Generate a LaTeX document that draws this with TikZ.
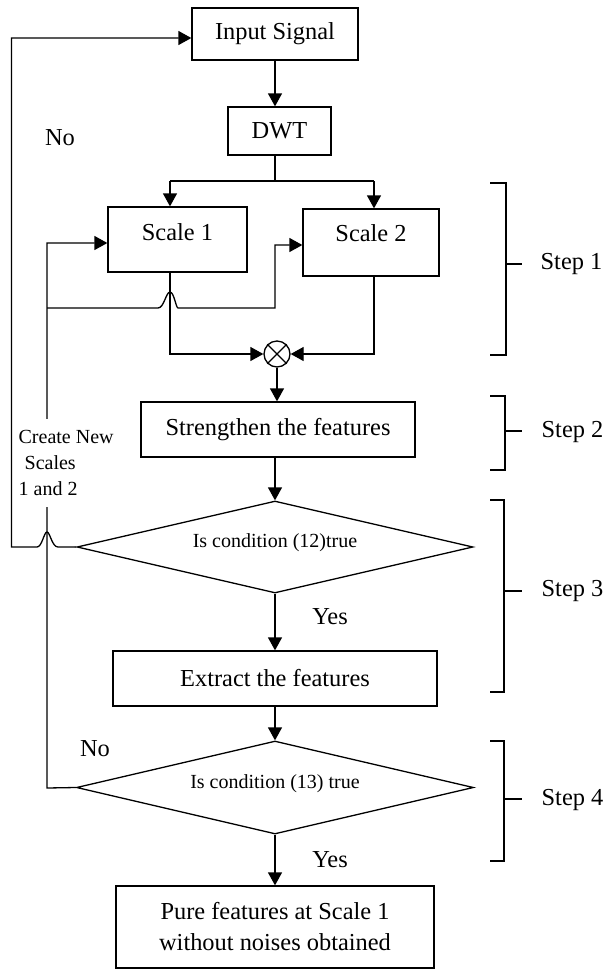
\documentclass[tikz,border=0pt]{standalone}
\usepackage{fontspec}
\setmainfont{Liberation Serif}
\usetikzlibrary{shapes.geometric,arrows.meta,calc}
\begin{document}
\begin{tikzpicture}[x=0.5pt,y=-0.5pt,
  line width=0.65pt,
  box/.style={draw,rectangle,inner sep=0pt,font=\fontsize{12.2}{15.5}\selectfont},
  dia/.style={draw,diamond,inner sep=0pt,font=\fontsize{10}{12}\selectfont},
  lbl/.style={inner sep=0pt,font=\fontsize{12.2}{15}\selectfont},
  arr/.style={-{Triangle[length=6.5pt,width=7pt]}}
]
\fill[white] (0,0) rectangle (603,970);
\useasboundingbox (0,0) rectangle (603,970);

% nodes
\node[box,minimum width=83pt,minimum height=26pt] (in) at (275,34) {Input Signal};
\node[box,minimum width=51.5pt,minimum height=24pt] (dwt) at (279.5,131) {DWT};
\node[box,minimum width=69.5pt,minimum height=32.5pt,text height=8.5pt,text depth=8pt] (s1) at (177.5,239.5) {Scale 1};
\node[box,minimum width=68pt,minimum height=33.5pt,text height=8.5pt,text depth=10pt] (s2) at (371,242.5) {Scale 2};
\node[draw,circle,minimum size=13pt,inner sep=0pt] (mul) at (277,354) {};
\node[box,minimum width=137pt,minimum height=27.5pt] (str) at (278,429.5) {Strengthen the features};
\node[dia,shape aspect=4.3,minimum width=198pt,minimum height=46pt,text height=7.5pt,text depth=6.9pt] (d1) at (275,547) {Is condition (12)true};
\node[box,minimum width=162pt,minimum height=27.5pt] (ext) at (275,678.5) {Extract the features};
\node[dia,shape aspect=4.27,minimum width=198.5pt,minimum height=46.5pt,text height=7.5pt,text depth=6.4pt] (d2) at (275,787.5) {Is condition (13) true};
\node[box,align=center,minimum width=159pt,minimum height=41pt] (pure) at (275,927) {Pure features at Scale 1\\without noises obtained};

% coordinates
\coordinate (a1) at (170,181);
\coordinate (a2) at (374,181);
\coordinate (c1) at (47,243);
\coordinate (c2) at (275,245);
\coordinate (c3) at (47,788);
\coordinate (c4) at (47,308);
\coordinate (t1) at (11.5,38);

% main flow
\draw[arr] (in.south) -- (in.south |- dwt.north);
\draw (in.south |- dwt.south) -- (in.south |- a1);
\draw (a1) -- (a2);
\draw[arr] (a1) -- (a1 |- s1.north);
\draw[arr] (a2) -- (a2 |- s2.north);

\draw[arr] (s1.south -| a1) -- (a1 |- mul.west) -- (mul.west);
\draw[arr] (s2.south -| a2) -- (a2 |- mul.east) -- (mul.east);
\draw (mul.north west) -- (mul.south east) (mul.north east) -- (mul.south west);
\draw[arr] (mul.south) -- (mul.south |- str.north);
\draw[arr] (str.south -| d1.north) -- (d1.north);
\draw[arr] (d1.south) -- (ext.north);
\draw[arr] (ext.south) -- (d2.north);
\draw[arr] (d2.south) -- (pure.north);

% feedback to scales
\draw[arr] (d2.west) -- (c3) -- (c1) -- (c1 -| s1.west);
\draw[arr] (c4) -- (158,308) .. controls (164,308) and (166,292) .. (170,292)
  .. controls (174,292) and (176,308) .. (178,308) -- (c2 |- c4) -- (c2) -- (c2 -| s2.west);

% feedback to input
\draw[arr] (d1.west) -- (58,547) .. controls (52,547) and (50,532) .. (47,532)
  .. controls (44,532) and (42,547) .. (37,547) -- (t1 |- d1.west) -- (t1) -- (t1 -| in.west);

\node[fill=white,inner xsep=1pt,inner ysep=5.5pt,align=left,anchor=west,font=\fontsize{10}{13}\selectfont] (cn) at (16,463) {Create New\\\hspace*{3pt}Scales\\1 and 2};

% labels
\node[lbl] (no1) at (60,138) {No};
\node[lbl] (no2) at (95,749) {No};
\node[lbl] (yes1) at (330,617) {Yes};
\node[lbl] (yes2) at (330,860) {Yes};

% step brackets
\draw (490,183) -- (506,183) -- (506,355) -- (490,355);
\draw (506,264) -- (522,264);
\node[lbl,anchor=west] (st1) at (540,264) {Step 1};
\draw (490,396) -- (505,396) -- (505,470) -- (490,470);
\draw (505,431) -- (522,431);
\node[lbl,anchor=west] (st2) at (541,432) {Step 2};
\draw (490,500) -- (504,500) -- (504,692) -- (490,692);
\draw (504,591) -- (522,591);
\node[lbl,anchor=west] (st3) at (541,591) {Step 3};
\draw (490,741) -- (504,741) -- (504,861) -- (490,861);
\draw (504,799) -- (522,799);
\node[lbl,anchor=west] (st4) at (541,800) {Step 4};
\end{tikzpicture}
\end{document}
